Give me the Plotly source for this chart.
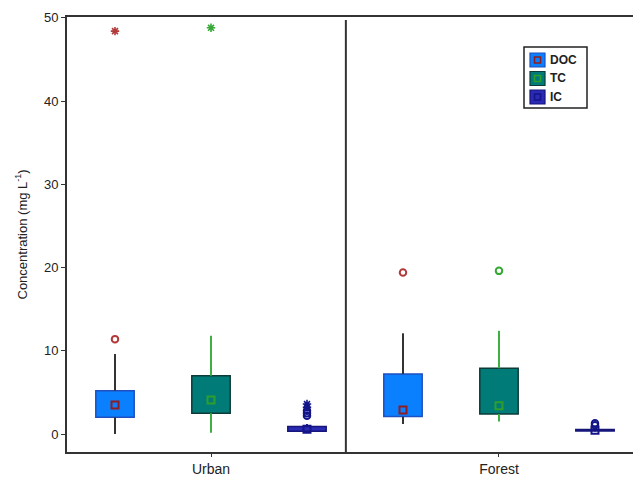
import plotly.graph_objects as go

# Box-plot summaries per site and carbon fraction (mg L-1)
sites = ["Urban", "Forest"]
fractions = ["DOC", "TC", "IC"]

q1 = {"Urban": [2.0, 2.5, 0.33], "Forest": [2.1, 2.4, 0.36]}
q3 = {"Urban": [5.2, 7.0, 0.90], "Forest": [7.2, 7.9, 0.55]}
whisk_lo = {"Urban": [0.0, 0.15, 0.2], "Forest": [1.2, 1.5, 0.3]}
whisk_hi = {"Urban": [9.6, 11.8, 1.2], "Forest": [12.1, 12.4, 0.6]}
means = {"Urban": [3.5, 4.1, 0.57], "Forest": [2.9, 3.4, 0.45]}
outliers = {"Urban": [[11.4], [], [2.8, 2.5, 2.2]], "Forest": [[19.4], [19.6], [1.3, 1.05]]}
extremes = {"Urban": [[48.4], [48.8], [3.6, 3.2]], "Forest": [[], [], []]}

fill = {"DOC": "#0a80ff", "TC": "#007b78", "IC": "#2a2ab4"}
edge = {"DOC": "#1f4fc0", "TC": "#0d3b38", "IC": "#15157a"}
whisker_col = {"DOC": "#333333", "TC": "#3cb043", "IC": "#15158a"}
mark_col = {"DOC": "#8e1c22", "TC": "#2e9e2e", "IC": "#15158a"}
out_col = {"DOC": "#b23a3a", "TC": "#35a835", "IC": "#15158a"}

fig = go.Figure()
box_w = 0.4
for si, site in enumerate(sites):
    for fi, fr in enumerate(fractions):
        x = si * 3 + fi
        lo, hi = whisk_lo[site][fi], whisk_hi[site][fi]
        b, t = q1[site][fi], q3[site][fi]
        # whiskers (outside the box)
        fig.add_trace(go.Scatter(x=[x, x, None, x, x], y=[lo, b, None, t, hi], mode="lines",
                                 line=dict(color=whisker_col[fr], width=2), showlegend=False,
                                 hoverinfo="skip"))
        # interquartile box
        fig.add_trace(go.Bar(x=[x], y=[t - b], base=[b], width=box_w,
                             marker=dict(color=fill[fr], line=dict(color=edge[fr], width=1.5)),
                             showlegend=False))
        # mean
        fig.add_trace(go.Scatter(x=[x], y=[means[site][fi]], mode="markers",
                                 marker=dict(symbol="square-open", size=7, color=mark_col[fr],
                                             line=dict(width=2)), showlegend=False))
        if outliers[site][fi]:
            fig.add_trace(go.Scatter(x=[x] * len(outliers[site][fi]), y=outliers[site][fi],
                                     mode="markers",
                                     marker=dict(symbol="circle-open", size=6.5, color=out_col[fr],
                                                 line=dict(width=2)), showlegend=False))
        if extremes[site][fi]:
            fig.add_trace(go.Scatter(x=[x] * len(extremes[site][fi]), y=extremes[site][fi],
                                     mode="markers",
                                     marker=dict(symbol="asterisk-open", size=7, color=out_col[fr],
                                                 line=dict(width=1.6)), showlegend=False))

# divider between the two sites
fig.add_shape(type="line", x0=2.405, x1=2.405, y0=0, y1=0.993, xref="x", yref="paper",
              line=dict(color="#333333", width=2))

# legend panel (drawn in paper coordinates)
W, H, L, T = 566, 435, 67, 17
def px(xp):
    return (xp - L) / W
def py(yp):
    return 1 - (yp - T) / H

fig.add_shape(type="rect", xref="paper", yref="paper", x0=px(524), x1=px(587), y0=py(108), y1=py(47),
              line=dict(color="#222222", width=1.5), fillcolor="white")
for i, fr in enumerate(fractions):
    cy = 60 + i * 18.5
    fig.add_shape(type="rect", xref="paper", yref="paper", x0=px(530), x1=px(545),
                  y0=py(cy + 7), y1=py(cy - 7), fillcolor=fill[fr],
                  line=dict(color=edge[fr], width=1.2))
    fig.add_shape(type="rect", xref="paper", yref="paper", x0=px(534.5), x1=px(540.5),
                  y0=py(cy + 3), y1=py(cy - 3), fillcolor="rgba(0,0,0,0)",
                  line=dict(color=mark_col[fr], width=1.6))
    fig.add_annotation(xref="paper", yref="paper", x=px(548), y=py(cy), text=f"<b>{fr}</b>",
                       showarrow=False, xanchor="left", yanchor="middle",
                       font=dict(family="Liberation Sans, Arial", size=12, color="#222222"))

fig.add_annotation(xref="paper", yref="paper", x=0, y=0.5, xshift=-46,
                   text="Concentration (mg L<sup>-1</sup>)", textangle=-90, showarrow=False,
                   xanchor="center", yanchor="middle",
                   font=dict(family="Liberation Sans, Arial", size=13, color="#222222"))

fig.update_layout(
    width=633, height=478, margin=dict(l=L, r=0, t=T, b=26),
    paper_bgcolor="white", plot_bgcolor="white", barmode="overlay", showlegend=False,
    font=dict(family="Liberation Sans, Arial", size=12, color="#222222"),
)
fig.update_xaxes(range=[-0.5, 5.396], tickvals=[1, 4], ticktext=sites, showgrid=False,
                 zeroline=False, showline=True, linecolor="#333333", linewidth=2, mirror=True,
                 ticks="outside", ticklen=3, tickcolor="#333333", tickfont=dict(size=14))
fig.update_yaxes(range=[-2.16, 50.1], tickvals=[0, 10, 20, 30, 40, 50], showgrid=False,
                 zeroline=False, showline=True, linecolor="#333333", linewidth=2,
                 ticks="outside", ticklen=4, tickcolor="#333333", tickfont=dict(size=13))

fig.write_html("out.html")
